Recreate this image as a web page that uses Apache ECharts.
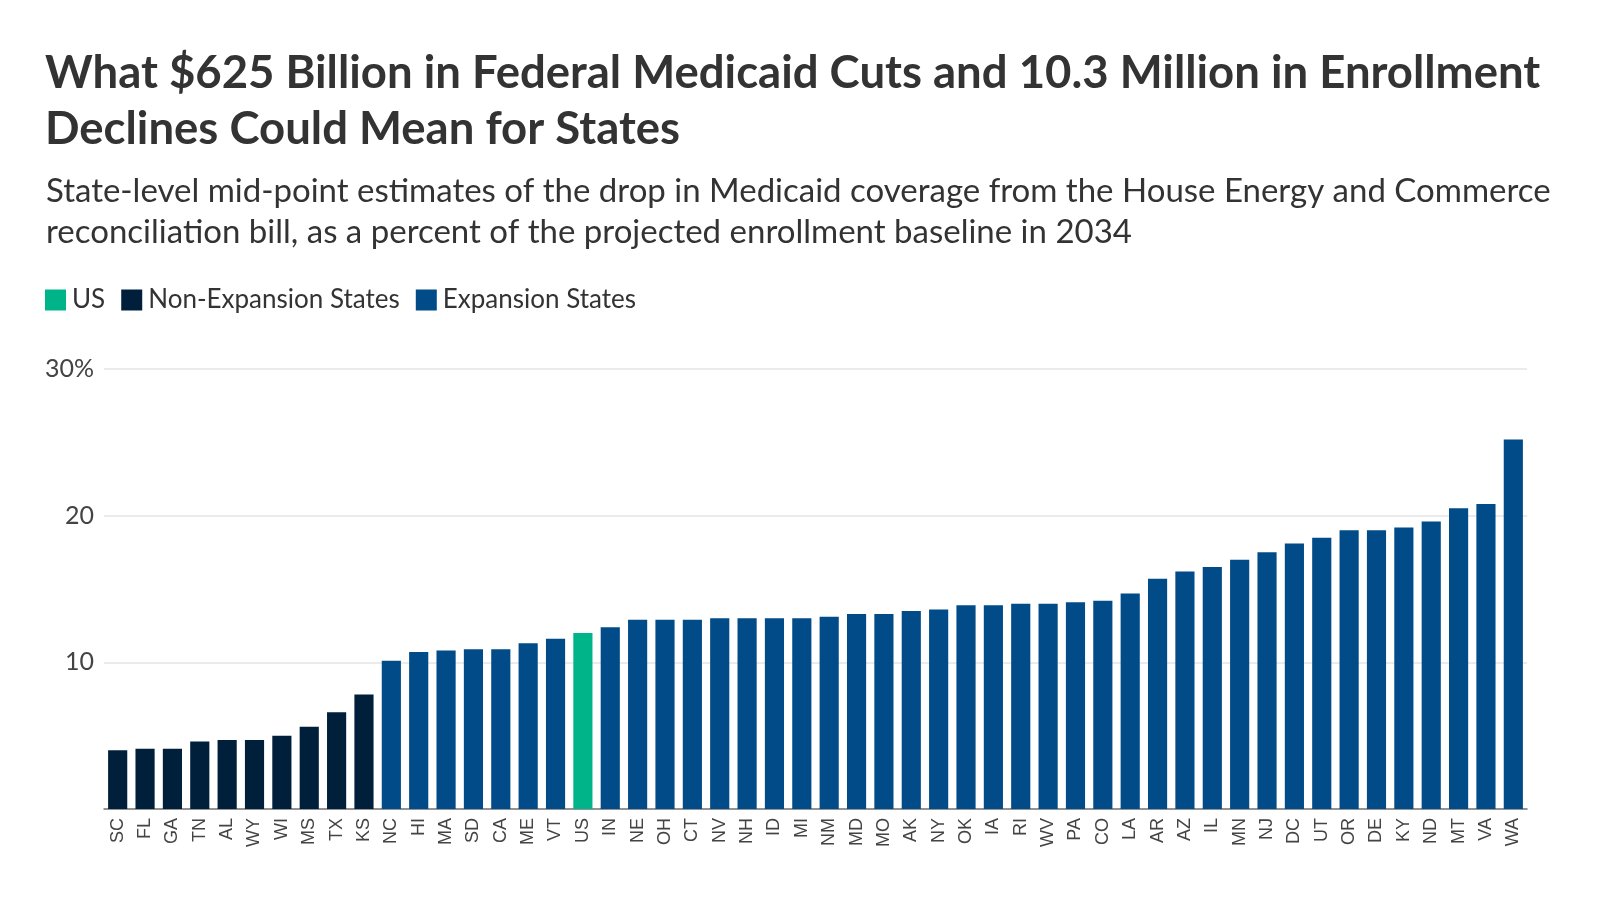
<!DOCTYPE html>
<html>
<head>
<meta charset="utf-8">
<title>Medicaid enrollment declines by state</title>
<script src="https://cdn.jsdelivr.net/npm/echarts@6/dist/echarts.min.js"></script>
<style>
  html, body { margin: 0; padding: 0; background: #ffffff; }
  #chart { width: 1600px; height: 900px; }
</style>
</head>
<body>
<div id="chart"></div>
<script>
  // ── Data ──────────────────────────────────────────────────────────────────
  var states = ['SC', 'FL', 'GA', 'TN', 'AL', 'WY', 'WI', 'MS', 'TX', 'KS',
    'NC', 'HI', 'MA', 'SD', 'CA', 'ME', 'VT', 'US', 'IN', 'NE', 'OH', 'CT',
    'NV', 'NH', 'ID', 'MI', 'NM', 'MD', 'MO', 'AK', 'NY', 'OK', 'IA', 'RI',
    'WV', 'PA', 'CO', 'LA', 'AR', 'AZ', 'IL', 'MN', 'NJ', 'DC', 'UT', 'OR',
    'DE', 'KY', 'ND', 'MT', 'VA', 'WA'];

  // drop in coverage, % of projected 2034 enrollment baseline
  var values = [4.0, 4.1, 4.1, 4.6, 4.7, 4.7, 5.0, 5.6, 6.6, 7.8,
    10.1, 10.7, 10.8, 10.9, 10.9, 11.3, 11.6, 12.0, 12.4, 12.9, 12.9, 12.9,
    13.0, 13.0, 13.0, 13.0, 13.1, 13.3, 13.3, 13.5, 13.6, 13.9, 13.9, 14.0,
    14.0, 14.1, 14.2, 14.7, 15.7, 16.2, 16.5, 17.0, 17.5, 18.1, 18.5, 19.0,
    19.0, 19.2, 19.6, 20.5, 20.8, 25.2];

  // N = non-expansion, E = expansion, U = US total
  var groups = ['N', 'N', 'N', 'N', 'N', 'N', 'N', 'N', 'N', 'N',
    'E', 'E', 'E', 'E', 'E', 'E', 'E', 'U', 'E', 'E', 'E', 'E',
    'E', 'E', 'E', 'E', 'E', 'E', 'E', 'E', 'E', 'E', 'E', 'E',
    'E', 'E', 'E', 'E', 'E', 'E', 'E', 'E', 'E', 'E', 'E', 'E',
    'E', 'E', 'E', 'E', 'E', 'E'];

  var seriesDefs = [
    { key: 'U', name: 'US', color: '#00b48a' },
    { key: 'N', name: 'Non-Expansion States', color: '#001f3a' },
    { key: 'E', name: 'Expansion States', color: '#004b88' }
  ];

  var yTicks = { min: 0, max: 30, interval: 10 };

  // ── Chart ─────────────────────────────────────────────────────────────────
  var FONT = 'Lato, "Noto Sans", sans-serif';

  function seriesData(key) {
    return values.map(function (v, i) { return groups[i] === key ? v : '-'; });
  }

  var chart = echarts.init(document.getElementById('chart'), null, { renderer: 'canvas' });

  chart.setOption({
    backgroundColor: '#ffffff',
    animation: false,
    title: [
      {
        text: 'What $625 Billion in Federal Medicaid Cuts and 10.3 Million in Enrollment\nDeclines Could Mean for States',
        left: 40,
        top: 40,
        textStyle: { fontFamily: FONT, fontSize: 45.5, fontWeight: 'bold', color: '#333333', lineHeight: 56 }
      },
      {
        text: 'State-level mid-point estimates of the drop in Medicaid coverage from the House Energy and Commerce\nreconciliation bill, as a percent of the projected enrollment baseline in 2034',
        left: 41,
        top: 166,
        textStyle: { fontFamily: FONT, fontSize: 33, fontWeight: 'normal', color: '#333333', lineHeight: 41 }
      }
    ],
    legend: {
      left: 40,
      top: 282,
      icon: 'rect',
      itemWidth: 21,
      itemHeight: 21,
      itemGap: 16,
      selectedMode: false,
      textStyle: { fontFamily: FONT, fontSize: 26, color: '#333333', padding: [0, 0, 0, 1] },
      data: seriesDefs.map(function (s) { return s.name; })
    },
    grid: { left: 104, right: 73, top: 369, bottom: 91, containLabel: false },
    xAxis: {
      type: 'category',
      data: states,
      axisLine: { show: true, lineStyle: { color: '#777777', width: 1.5 } },
      axisTick: { show: false },
      axisLabel: {
        rotate: 90,
        interval: 0,
        margin: 9,
        color: '#444444',
        fontFamily: '"Liberation Sans Narrow", "Arial Narrow", "Liberation Sans", sans-serif',
        fontSize: 18
      }
    },
    yAxis: {
      type: 'value',
      min: yTicks.min,
      max: yTicks.max,
      interval: yTicks.interval,
      axisLine: { show: false },
      axisTick: { show: false },
      splitLine: { lineStyle: { color: '#e4e4e4', width: 1.5 } },
      axisLabel: {
        margin: 10,
        color: '#444444',
        fontFamily: FONT,
        fontSize: 25,
        padding: [9, 0, 0, 0],
        formatter: function (v) {
          if (v === 0) return '';
          return v === yTicks.max ? v + '%' : String(v);
        }
      }
    },
    series: seriesDefs.map(function (s) {
      return {
        type: 'bar',
        name: s.name,
        data: seriesData(s.key),
        barGap: '-100%',
        barCategoryGap: '30%',
        itemStyle: { color: s.color },
        emphasis: { disabled: true }
      };
    })
  });

  window.addEventListener('resize', function () { chart.resize(); });
</script>
</body>
</html>
